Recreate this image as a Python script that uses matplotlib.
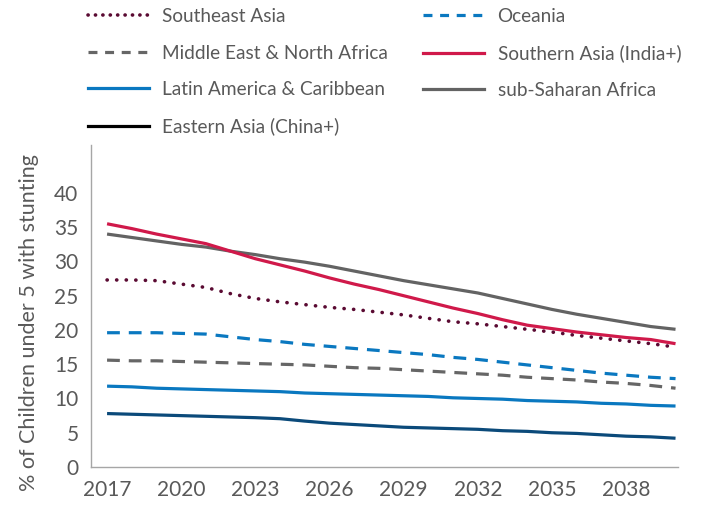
import matplotlib.pyplot as plt
from matplotlib.lines import Line2D

plt.rcParams['font.family'] = ['Lato', 'DejaVu Sans']

years = list(range(2017, 2041))

southeast_asia = [27.3, 27.3, 27.2, 26.7, 26.2, 25.3, 24.6, 24.1, 23.7, 23.3, 23.0, 22.6,
                  22.2, 21.7, 21.2, 20.9, 20.5, 20.1, 19.7, 19.2, 18.8, 18.4, 18.0, 17.5]
oceania = [19.6, 19.6, 19.6, 19.5, 19.4, 19.0, 18.6, 18.3, 17.9, 17.6, 17.3, 17.0,
           16.7, 16.4, 16.0, 15.7, 15.3, 14.9, 14.5, 14.1, 13.7, 13.4, 13.1, 12.9]
mena = [15.6, 15.5, 15.5, 15.4, 15.3, 15.2, 15.1, 15.0, 14.9, 14.7, 14.5, 14.4,
        14.2, 14.0, 13.8, 13.6, 13.4, 13.1, 12.9, 12.7, 12.4, 12.2, 11.9, 11.5]
southern_asia = [35.5, 34.8, 34.0, 33.3, 32.6, 31.5, 30.4, 29.5, 28.6, 27.6, 26.7, 25.9,
                 25.0, 24.1, 23.2, 22.4, 21.5, 20.7, 20.2, 19.7, 19.3, 18.9, 18.6, 18.0]
latin_america = [11.8, 11.7, 11.5, 11.4, 11.3, 11.2, 11.1, 11.0, 10.8, 10.7, 10.6, 10.5,
                 10.4, 10.3, 10.1, 10.0, 9.9, 9.7, 9.6, 9.5, 9.3, 9.2, 9.0, 8.9]
ssa = [34.0, 33.5, 33.0, 32.5, 32.1, 31.5, 31.0, 30.4, 29.9, 29.3, 28.6, 27.9,
       27.2, 26.6, 26.0, 25.4, 24.6, 23.8, 23.0, 22.3, 21.7, 21.1, 20.5, 20.1]
eastern_asia = [7.8, 7.7, 7.6, 7.5, 7.4, 7.3, 7.2, 7.05, 6.7, 6.4, 6.2, 6.0,
                5.8, 5.7, 5.6, 5.5, 5.3, 5.2, 5.0, 4.9, 4.7, 4.5, 4.4, 4.2]

xticks = [2017, 2020, 2023, 2026, 2029, 2032, 2035, 2038]
yticks = [0, 5, 10, 15, 20, 25, 30, 35, 40]

txt = '#595959'
fig = plt.figure(figsize=(7.02, 5.08), dpi=100)
ax = fig.add_axes([91 / 702, 41 / 508, 587 / 702, 322 / 508])

lw = 2.3
ax.plot(years, eastern_asia, color='#0b4a7a', lw=lw, solid_capstyle='butt')
ax.plot(years, latin_america, color='#0a78c0', lw=lw, solid_capstyle='butt')
ax.plot(years, mena, color='#666666', lw=lw, ls=(0, (4, 2.8)), dash_capstyle='butt')
ax.plot(years, oceania, color='#0a78c0', lw=lw, ls=(0, (4, 2.8)), dash_capstyle='butt')
ax.plot(years, ssa, color='#636363', lw=lw, solid_capstyle='butt')
ax.plot(years, southern_asia, color='#d0194a', lw=lw, solid_capstyle='butt')
ax.plot(years, southeast_asia, color='#5a0a32', lw=2.6, ls=(0, (0.05, 2.6)),
        dash_capstyle='round')

ax.set_xlim(2016.35, 2040.1)
ax.set_ylim(0, 47)
ax.set_xticks(xticks)
ax.set_xticklabels([str(x) for x in xticks], fontsize=15, color=txt)
ax.set_yticks(yticks)
ax.set_yticklabels([str(y) for y in yticks], fontsize=15, color=txt)
ax.tick_params(axis='y', length=0, pad=9)
ax.tick_params(axis='x', length=0, pad=9)
for s in ['top', 'right']:
    ax.spines[s].set_visible(False)
for s in ['left', 'bottom']:
    ax.spines[s].set_color('#a6a6a6')
    ax.spines[s].set_linewidth(1.0)
ax.set_ylabel('% of Children under 5 with stunting', fontsize=15.5, color=txt)
ax.yaxis.set_label_coords(-0.088, 0.45)

handles = [
    Line2D([], [], color='#5a0a32', lw=2.6, ls=(0, (0.05, 2.0)), dash_capstyle='round'),
    Line2D([], [], color='#666666', lw=lw, ls=(0, (2.8, 2.4)), dash_capstyle='butt'),
    Line2D([], [], color='#0a78c0', lw=lw),
    Line2D([], [], color='black', lw=lw),
    Line2D([], [], color='#0a78c0', lw=lw, ls=(0, (2.8, 2.4)), dash_capstyle='butt'),
    Line2D([], [], color='#d0194a', lw=lw),
    Line2D([], [], color='#636363', lw=lw),
]
labels = ['Southeast Asia', 'Middle East & North Africa', 'Latin America & Caribbean',
          'Eastern Asia (China+)', 'Oceania', 'Southern Asia (India+)', 'sub-Saharan Africa']
leg = fig.legend(handles, labels, ncol=2, loc='upper left',
                 bbox_to_anchor=(71 / 702, 1 + 9 / 508), frameon=False,
                 fontsize=13.7, labelcolor=txt, handlelength=3.2, handletextpad=0.7,
                 columnspacing=1.85, labelspacing=1.02)

fig.savefig('out.png', dpi=100)
